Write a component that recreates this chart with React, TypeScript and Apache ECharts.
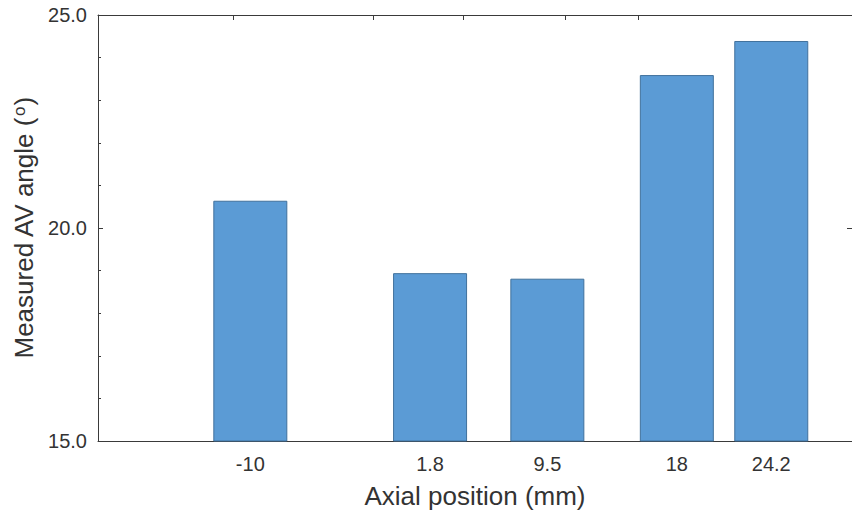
import React, { useEffect, useRef } from "react";
import * as echarts from "echarts";

const positions = [-10, 1.8, 9.5, 18, 24.2];
const angles = [20.64, 18.94, 18.81, 23.59, 24.39];
const topTickValues = [-11.1, -1.9, 4.0, 10.7, 15.5];
const xTitle = "Axial position (mm)";
const yTitleMain = "Measured AV angle (";
const yTitleSup = "o";
const yTitleEnd = ")";

const FONT = "'Liberation Sans', Arial, sans-serif";
const AXIS_COLOR = "#3a3a3a";
const TEXT_COLOR = "#333333";

export default function App() {
  const ref = useRef<HTMLDivElement>(null);
  useEffect(() => {
    if (!ref.current) return;
    const chart = echarts.init(ref.current, null, { renderer: "svg" });
    const xMin = -20;
    const xMax = 29.5;
    chart.setOption({
      animation: false,
      backgroundColor: "#ffffff",
      textStyle: { fontFamily: FONT },
      grid: { left: 98, top: 15, bottom: 72, right: -4, containLabel: false },
      xAxis: [
        {
          type: "value",
          position: "bottom",
          min: xMin,
          max: xMax,
          splitLine: { show: false },
          axisLine: { show: true, onZero: false, lineStyle: { color: AXIS_COLOR, width: 1 } },
          axisTick: { show: false },
          axisLabel: {
            show: true,
            customValues: positions,
            color: TEXT_COLOR,
            fontSize: 20,
            fontFamily: FONT,
            margin: 13,
            formatter: (v: number) => String(v),
          },
          name: xTitle,
          nameLocation: "middle",
          nameGap: 42,
          nameTextStyle: { color: TEXT_COLOR, fontSize: 26, fontFamily: FONT },
        },
        {
          type: "value",
          position: "top",
          min: xMin,
          max: xMax,
          splitLine: { show: false },
          axisLine: { show: true, onZero: false, lineStyle: { color: AXIS_COLOR, width: 1 } },
          axisTick: {
            show: true,
            inside: true,
            length: 5,
            customValues: topTickValues,
            lineStyle: { color: AXIS_COLOR },
          },
          axisLabel: { show: false },
        },
      ],
      yAxis: [
        {
          type: "value",
          position: "left",
          min: 15,
          max: 25,
          interval: 5,
          splitLine: { show: false },
          axisLine: { show: true, onZero: false, lineStyle: { color: AXIS_COLOR, width: 1 } },
          axisTick: { show: true, inside: true, length: 5, lineStyle: { color: AXIS_COLOR } },
          minorTick: { show: true, splitNumber: 5, length: 3, lineStyle: { color: AXIS_COLOR } },
          axisLabel: {
            color: TEXT_COLOR,
            fontSize: 20,
            fontFamily: FONT,
            margin: 11,
            formatter: (v: number) => v.toFixed(1),
          },
          name: `{a|${yTitleMain}}{s|${yTitleSup}}{a|${yTitleEnd}}`,
          nameLocation: "middle",
          nameGap: 54,
          nameRotate: 90,
          nameTextStyle: {
            color: TEXT_COLOR,
            fontSize: 26,
            fontFamily: FONT,
            rich: {
              a: { fontSize: 26, color: TEXT_COLOR, fontFamily: FONT },
              s: { fontSize: 17, color: TEXT_COLOR, fontFamily: FONT, verticalAlign: "top", padding: [0, 1, 10, 1] },
            },
          },
        },
        {
          type: "value",
          position: "right",
          min: 15,
          max: 25,
          interval: 5,
          splitLine: { show: false },
          axisLine: { show: true, onZero: false, lineStyle: { color: AXIS_COLOR, width: 1 } },
          axisTick: { show: true, inside: true, length: 5, lineStyle: { color: AXIS_COLOR } },
          axisLabel: { show: false },
        },
      ],
      series: [
        {
          type: "bar",
          xAxisIndex: 0,
          yAxisIndex: 0,
          barWidth: 74,
          clip: true,
          data: positions.map((p, i) => [p, angles[i]]),
          itemStyle: { color: "#5B9BD5", borderColor: "#41719C", borderWidth: 1 },
        },
      ],
    });
    return () => chart.dispose();
  }, []);
  return (
    <div
      ref={ref}
      style={{ position: "absolute", left: 0, top: 0, width: 852, height: 514 }}
    />
  );
}
